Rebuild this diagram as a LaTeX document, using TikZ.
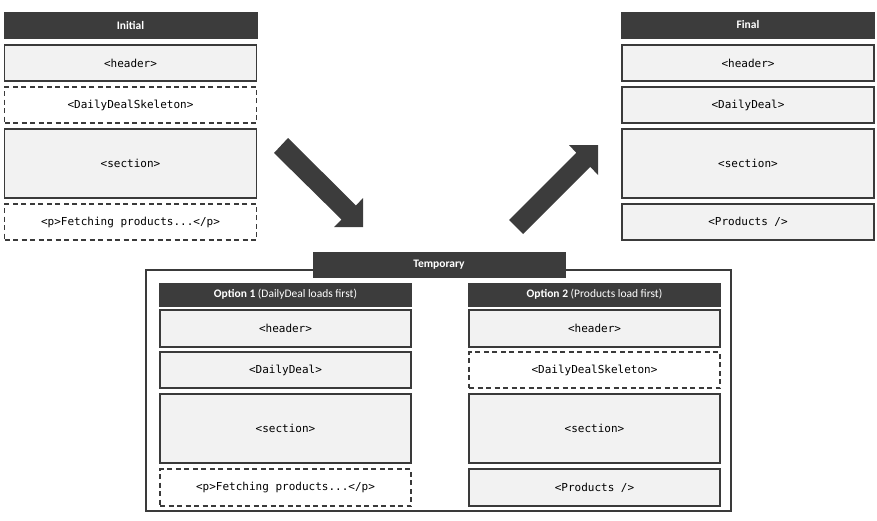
\documentclass[tikz,border=0pt]{standalone}
\usepackage{fontspec}
\setmainfont{Carlito}
\setmonofont{DejaVu Sans Mono}
\definecolor{dark}{HTML}{3C3C3C}
\definecolor{lightfill}{HTML}{F2F2F2}
\definecolor{bord}{HTML}{3A3A3A}
\begin{document}
\begin{tikzpicture}[x=1pt,y=-1pt,
  title/.style={fill=dark,draw=dark,text=white,font=\bfseries\fontsize{11.5}{13}\selectfont,inner sep=0pt},
  box/.style={fill=lightfill,draw=bord,line width=1.2pt,font=\ttfamily\fontsize{11}{13}\selectfont,inner sep=0pt},
  dbox/.style={fill=white,draw=bord,line width=1.2pt,dash pattern=on 5pt off 3.5pt,font=\ttfamily\fontsize{11}{13}\selectfont,inner sep=0pt},
  bigarrow/.style={fill=dark}]
\useasboundingbox (0,0) rectangle (877,520);
% Initial column
\node[title,minimum width=253pt,minimum height=26pt] (it) at (130.5,25) {Initial};
\node[box,minimum width=252pt,minimum height=36pt] (ih) at (130.5,63) {<header>};
\node[dbox,minimum width=252pt,minimum height=36pt] (id) at (130.5,105) {<DailyDealSkeleton>};
\node[box,minimum width=252pt,minimum height=69pt] (is) at (130.5,163.5) {<section>};
\node[dbox,minimum width=252pt,minimum height=36pt] (ip) at (130.5,222) {<p>Fetching products...</p>};
% Final column
\node[title,minimum width=253pt,minimum height=26pt] (ft) at (748,25) {Final};
\node[box,minimum width=252pt,minimum height=36pt] (fh) at (748,63) {<header>};
\node[box,minimum width=252pt,minimum height=36pt] (fd) at (748,105) {<DailyDeal>};
\node[box,minimum width=252pt,minimum height=69pt] (fs) at (748,163.5) {<section>};
\node[box,minimum width=252pt,minimum height=36pt] (fp) at (748,222) {<Products />};
% Temporary container
\node[draw=bord,line width=2.2pt,minimum width=585pt,minimum height=241pt,inner sep=0pt] (tbox) at (438.5,390.5) {};
\node[title,minimum width=252pt,minimum height=25pt] (tt) at (439,264.5) {Temporary};
% Option 1
\node[title,minimum width=252pt,minimum height=23pt] (o1t) at (285.5,294.5) {Option 1 \mdseries(DailyDeal loads first)};
\node[box,minimum width=251pt,minimum height=37pt] (o1h) at (285.5,328.5) {<header>};
\node[box,minimum width=251pt,minimum height=36pt] (o1d) at (285.5,370) {<DailyDeal>};
\node[box,minimum width=251pt,minimum height=69pt] (o1s) at (285.5,428.5) {<section>};
\node[dbox,minimum width=251pt,minimum height=37pt] (o1p) at (285.5,487.5) {<p>Fetching products...</p>};
% Option 2
\node[title,minimum width=252pt,minimum height=23pt] (o2t) at (594.5,294.5) {Option 2 \mdseries(Products load first)};
\node[box,minimum width=251pt,minimum height=37pt] (o2h) at (594.5,328.5) {<header>};
\node[dbox,minimum width=251pt,minimum height=36pt] (o2d) at (594.5,370) {<DailyDealSkeleton>};
\node[box,minimum width=251pt,minimum height=69pt] (o2s) at (594.5,428.5) {<section>};
\node[box,minimum width=251pt,minimum height=37pt] (o2p) at (594.5,487.5) {<Products />};
% Block arrows
\fill[bigarrow] (288,138) -- (356,205.5) -- (363,198) -- (363,227) -- (334,227) -- (341.5,219.5) -- (274,153) -- cycle;
\fill[bigarrow] (509,220) -- (576.25,152.75) -- (569,145) -- (598,145) -- (598,175) -- (590.25,166.75) -- (523,234) -- cycle;
\end{tikzpicture}
\end{document}
